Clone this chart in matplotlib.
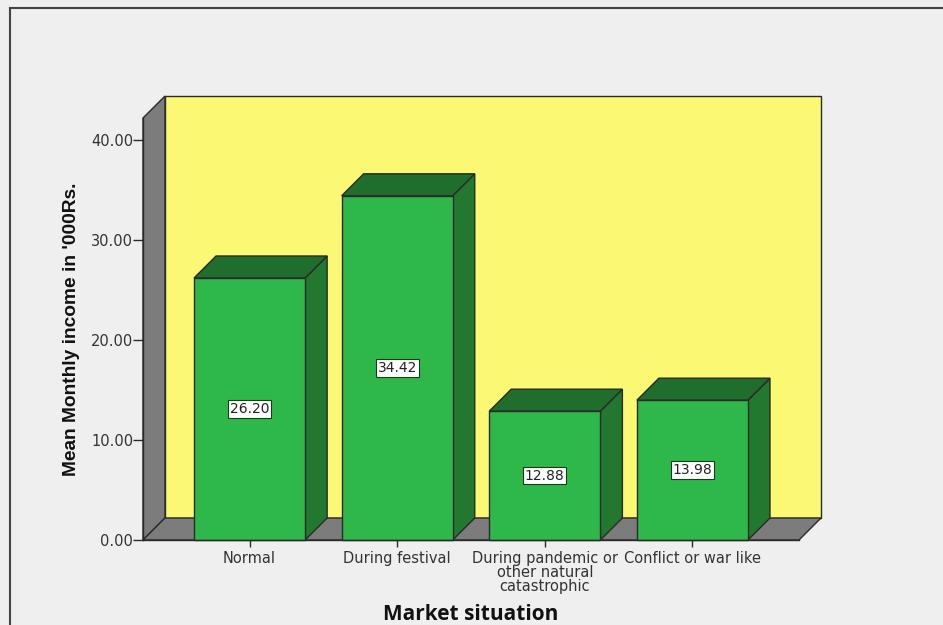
import matplotlib.pyplot as plt
from matplotlib.patches import Polygon, Rectangle
from matplotlib.lines import Line2D

categories = ["Normal", "During festival", "During pandemic or\nother natural\ncatastrophic", "Conflict or war like"]
means = [26.20, 34.42, 12.88, 13.98]
value_labels = ["26.20", "34.42", "12.88", "13.98"]
y_ticks = [0, 10, 20, 30, 40]
y_tick_labels = ["0.00", "10.00", "20.00", "30.00", "40.00"]

W, H = 943, 625
fig = plt.figure(figsize=(W / 100, H / 100), dpi=100, facecolor="#efefef")

# front plane of the 3D box in pixels
px0, px1, py0, py1 = 143, 799, 540, 118
ax = fig.add_axes([px0 / W, (H - py0) / H, (px1 - px0) / W, (py0 - py1) / H])
ax.set_xlim(-0.722, 3.722)
ax.set_ylim(0, 42.2)
ax.patch.set_visible(False)

x0, x1 = ax.get_xlim()
ytop = ax.get_ylim()[1]
dx = 22 / 147.5   # depth offset in category units
dy = 2.2          # depth offset in value units

yellow = "#fbf873"
grey = "#7c7c7c"
edge = "#2a2a2a"
green_front = "#2fb84a"
green_top = "#1f6e2e"
green_side = "#22782f"

def poly(pts, fc, lw=1.0, z=1):
    ax.add_patch(Polygon(pts, closed=True, facecolor=fc, edgecolor=edge,
                         linewidth=lw, zorder=z, clip_on=False))

# back wall, left wall, floor
poly([(x0 + dx, dy), (x1 + dx, dy), (x1 + dx, ytop + dy), (x0 + dx, ytop + dy)], yellow)
poly([(x0, 0), (x0 + dx, dy), (x0 + dx, ytop + dy), (x0, ytop)], grey)
poly([(x0, 0), (x1, 0), (x1 + dx, dy), (x0 + dx, dy)], grey)

bw = 111 / 147.5
for i, v in enumerate(means):
    l, r = i - bw / 2, i + bw / 2
    poly([(r, 0), (r + dx, dy), (r + dx, v + dy), (r, v)], green_side, z=3)
    poly([(l, v), (r, v), (r + dx, v + dy), (l + dx, v + dy)], green_top, z=3)
    ax.add_patch(Rectangle((l, 0), bw, v, facecolor=green_front, edgecolor=edge,
                           linewidth=1.0, zorder=4, clip_on=False))
    ax.text(i, v / 2, value_labels[i], ha="center", va="center", fontsize=10,
            family="DejaVu Sans", zorder=5, color="#222222",
            bbox=dict(boxstyle="square,pad=0.12", facecolor="white",
                      edgecolor="#1a3a1a", linewidth=0.8))

for s in ["top", "right", "bottom", "left"]:
    ax.spines[s].set_visible(False)
ax.add_line(Line2D([x0, x1], [0, 0], color=edge, lw=1.0, zorder=6, clip_on=False))
ax.add_line(Line2D([x0, x0], [0, ytop], color=edge, lw=1.0, zorder=6, clip_on=False))

ax.set_yticks(y_ticks)
ax.set_yticklabels(y_tick_labels, fontsize=10.5, family="DejaVu Sans", color="#333333")
ax.tick_params(axis="y", length=7, width=1, color=edge, pad=0)
ax.set_xticks(range(len(categories)))
ax.set_xticklabels(categories, fontsize=10.5, family="DejaVu Sans", color="#333333",
                   linespacing=0.9)
ax.tick_params(axis="x", length=5, width=1, color=edge, pad=3)

fig.text(72 / W, 1 - 329 / H, "Mean Monthly income in '000Rs.", rotation=90,
         ha="center", va="center", fontsize=13.8, fontweight="bold",
         family="Liberation Sans", color="#111111")
fig.text(471 / W, 1 - 614 / H, "Market situation", ha="center", va="center",
         fontsize=15, fontweight="bold", family="Open Sans", color="#111111")

# outer frame (left and top edges visible)
fig.add_artist(Line2D([9.5 / W, 9.5 / W], [0, 1 - 8 / H], transform=fig.transFigure,
                      color="#444444", lw=1.5))
fig.add_artist(Line2D([9.5 / W, 1], [1 - 8 / H, 1 - 8 / H], transform=fig.transFigure,
                      color="#444444", lw=1.5))

fig.savefig("out.png", dpi=100, facecolor=fig.get_facecolor())
